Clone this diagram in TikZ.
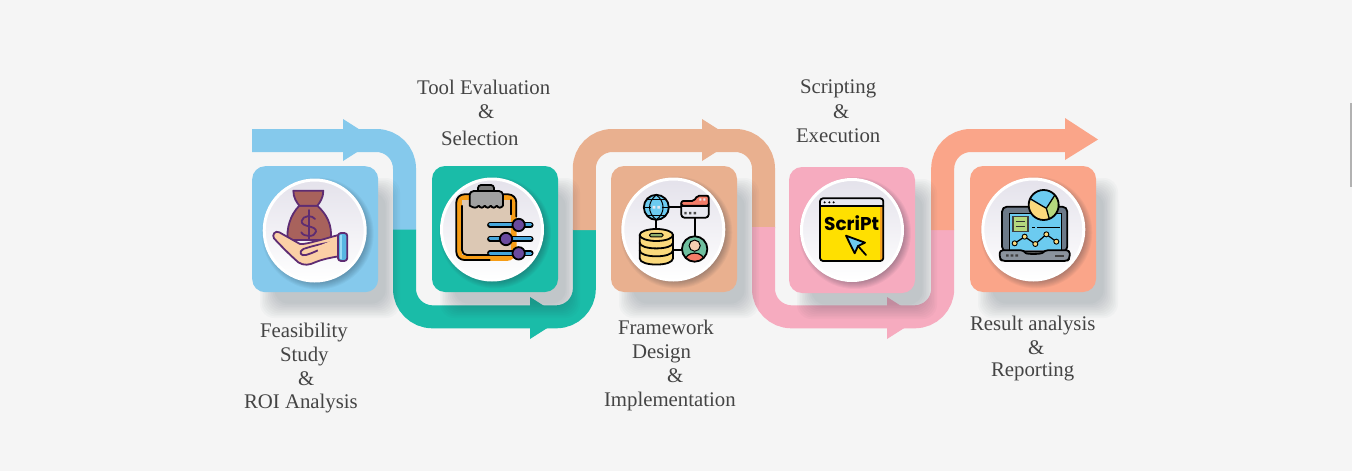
\documentclass[tikz,border=0pt]{standalone}
\usepackage{fontspec}
\setmainfont{Liberation Serif}
\newfontfamily\winfont{Poppins}
\definecolor{bgc}{HTML}{F5F5F5}
\definecolor{bluec}{HTML}{85C9EC}
\definecolor{tealc}{HTML}{1ABCA8}
\definecolor{orangec}{HTML}{E9B08F}
\definecolor{pinkc}{HTML}{F6ABBF}
\definecolor{salmonc}{HTML}{FAA589}
\definecolor{txtc}{HTML}{444444}
\definecolor{shadc}{HTML}{1A2A3A}
\definecolor{discc}{HTML}{E4E2EB}
\definecolor{purp}{HTML}{5E2C72}
\definecolor{bagc}{HTML}{A8625C}
\definecolor{skinc}{HTML}{FBD0A6}
\definecolor{cuffc}{HTML}{58B6E2}
\definecolor{board}{HTML}{F79D16}
\definecolor{paper}{HTML}{DCC8B4}
\definecolor{clipc}{HTML}{A0A0A0}
\definecolor{clipd}{HTML}{7C7C7C}
\definecolor{sliderc}{HTML}{46A6DC}
\definecolor{knobc}{HTML}{6A4A9E}
\definecolor{skyc}{HTML}{6CCBF0}
\definecolor{redc}{HTML}{F47C68}
\definecolor{foldc}{HTML}{E8E8F0}
\definecolor{yelc}{HTML}{FBD97C}
\definecolor{greenc}{HTML}{6FBF9F}
\definecolor{headc}{HTML}{F5CDB0}
\definecolor{pillc}{HTML}{8FAE6A}
\definecolor{scr}{HTML}{FFE000}
\definecolor{scro}{HTML}{F7A520}
\definecolor{lapc}{HTML}{6D7A89}
\definecolor{basec}{HTML}{8A939D}
\definecolor{leaf}{HTML}{B5D87E}
\newcommand\softbox[4]{%
  \foreach \i in {0,...,9}{%
    \pgfmathsetmacro\g{-8+1.6*\i}%
    \fill[shadc,opacity=.025,rounded corners=14pt] ({#1+\g},{#2+\g}) rectangle ({#3-\g},{#4-\g});
  }}
\newcommand\softdisc[2]{%
  \foreach \i in {0,...,7}{%
    \pgfmathsetmacro\g{49+\i}%
    \fill[shadc,opacity=.045] (#1+3,#2+3) circle [radius=\g pt];
  }}
\tikzset{
  band/.style={line width=23pt,line cap=butt,rounded corners=28pt},
  card/.style={minimum width=126pt,minimum height=126pt,inner sep=0pt,outer sep=0pt,rounded corners=13pt},
  disc/.style={circle,minimum size=101pt,inner sep=0pt,outer sep=0pt,draw=white,line width=3pt,top color=discc,middle color=discc!45!white,bottom color=white},
  lbl/.style={anchor=base west,inner sep=0pt,outer sep=0pt,text=txtc,font=\fontsize{20.8}{24}\selectfont},
  ico/.style={x=.3333pt,y=-.3333pt},
  pl/.style={draw=purp,line width=1.8pt,line join=round,line cap=round},
  bl/.style={draw=black,line width=1.8pt,line join=round,line cap=round}
}
\begin{document}
\begin{tikzpicture}[x=1pt,y=-1pt]
\useasboundingbox (0,0) rectangle (1352,471);
\fill[bgc] (0,0) rectangle (1352,471);
\fill[black!30] (1350,103) rectangle (1352,186.5);
% bands
\draw[band,draw=bluec] (252,140.5) -- (404.5,140.5) -- (404.5,230);
\fill[bluec] (343,119) -- (376,140) -- (343,161) -- cycle;
\draw[band,draw=tealc] (404.5,229.5) -- (404.5,316.8) -- (584.3,316.8) -- (584.3,229.5);
\fill[tealc] (530,297) -- (563,318) -- (530,339) -- cycle;
\draw[band,draw=orangec] (584.3,230) -- (584.3,140.5) -- (763.5,140.5) -- (763.5,228);
\fill[orangec] (702,119) -- (735,140) -- (702,161) -- cycle;
\draw[band,draw=pinkc] (763.5,227) -- (763.5,316.8) -- (942.7,316.8) -- (942.7,229.5);
\fill[pinkc] (887,297) -- (920,318) -- (887,339) -- cycle;
\draw[band,draw=salmonc] (942.7,230) -- (942.7,140.5) -- (1066,140.5);
\fill[salmonc] (1065,118) -- (1098,139.5) -- (1065,160) -- cycle;
% card shadows
\softbox{268}{186}{392}{310}
\softbox{448}{186}{572}{310}
\softbox{627}{186}{751}{310}
\softbox{805}{187}{929}{311}
\softbox{986}{186}{1110}{310}
% cards
\node[card,fill=bluec] (c1) at (315.2,229.2) {};
\node[card,fill=tealc] (c2) at (495,229) {};
\node[card,fill=orangec] (c3) at (674,229) {};
\node[card,fill=pinkc] (c4) at (852,230) {};
\node[card,fill=salmonc] (c5) at (1033,229) {};
% discs
\softdisc{314.7}{230.5}
\softdisc{492}{229.5}
\softdisc{673.3}{229.5}
\softdisc{852}{230}
\softdisc{1033.3}{229.5}
\node[disc] (d1) at (314.7,230.5) {};
\node[disc] (d2) at (492,229.5) {};
\node[disc] (d3) at (673.3,229.5) {};
\node[disc] (d4) at (852,230) {};
\node[disc] (d5) at (1033.3,229.5) {};
% icon 1: money bag on hand
\begin{scope}[shift={(260,175)},ico]
\path[pl,fill=bagc] (118,92) .. controls (90,120) and (78,165) .. (84,195) -- (212,195) .. controls (218,150) and (200,118) .. (172,92) -- cycle;
\path[pl,fill=bagc] (100,47) -- (190,47) .. controls (190,68) and (180,82) .. (172,92) -- (118,92) .. controls (110,82) and (100,68) .. (100,47) -- cycle;
\draw[pl] (165,132) .. controls (158,120) and (128,120) .. (125,138) .. controls (123,158) and (170,150) .. (168,170) .. controls (165,188) and (130,186) .. (124,172);
\draw[pl] (146,105) -- (146,195);
\path[pl,fill=skinc] (236,180) .. controls (215,185) and (195,192) .. (170,198) .. controls (150,203) and (135,208) .. (120,207) -- (58,172) .. controls (45,165) and (35,180) .. (42,190) .. controls (65,215) and (90,240) .. (115,262) .. controls (130,273) and (150,270) .. (165,262) .. controls (190,252) and (212,248) .. (236,244) -- cycle;
\path[pl,fill=skinc] (215,202) .. controls (190,205) and (160,212) .. (130,222) .. controls (115,230) and (122,245) .. (138,240) .. controls (155,235) and (165,230) .. (178,224);
\fill[skinc] (170,215) -- (232,190) -- (232,240) -- (180,245) -- cycle;
\path[pl,fill=cuffc,rounded corners=3pt] (234,174) rectangle (262,258);
\fill[skyc!70!white] (239,179) rectangle (247,253);
\end{scope}
% icon 2: clipboard with sliders
\begin{scope}[shift={(438,175)},ico]
\fill[board,rounded corners=10pt] (55,58) rectangle (236,258);
\fill[paper] (72,75) rectangle (218,240);
\draw[bl,rounded corners=8pt] (155,255) -- (55,255) -- (55,58) -- (95,58);
\draw[bl,rounded corners=5pt] (155,240) -- (72,240) -- (72,92);
\draw[bl,rounded corners=8pt] (195,58) -- (235,58) -- (235,125);
\draw[bl] (218,75) -- (218,118);
\path[bl,fill=clipd,rounded corners=3pt] (120,50) -- (120,30) -- (168,30) -- (168,50);
\path[bl,fill=clipc] (95,92) -- (95,55) [rounded corners=4pt] -- (95,48) -- (195,48) [sharp corners] -- (195,92)
  .. controls (188,100) and (182,100) .. (176,92) .. controls (170,100) and (164,100) .. (158,92) .. controls (152,100) and (146,100) .. (140,92) .. controls (134,100) and (128,100) .. (122,92) .. controls (116,100) and (108,100) .. (95,92) -- cycle;
\foreach \yy/\kx in {150/242,192/204,235/242}{
  \draw[line width=5.8pt,line cap=round,black] (156,\yy) -- (278,\yy);
  \draw[line width=3pt,line cap=round,sliderc] (156,\yy) -- (278,\yy);
  \path[bl,fill=knobc] (\kx,\yy) circle [radius=6.2pt];
}
\end{scope}
% icon 3: network
\begin{scope}[shift={(618,175)},ico]
\draw[bl] (150,97) -- (190,97);
\draw[bl] (230,128) -- (230,185);
\draw[bl] (190,225) -- (165,225);
\draw[bl] (115,134) -- (115,165);
\path[bl,fill=skyc] (115,97) circle [radius=12.5pt];
\draw[bl,line width=1pt] (78,97) -- (152,97);
\draw[bl,line width=1pt] (115,60) .. controls (88,80) and (88,115) .. (115,134);
\draw[bl,line width=1pt] (115,60) .. controls (142,80) and (142,115) .. (115,134);
\draw[bl,line width=1pt] (88,73) -- (142,73);
\draw[bl,line width=1pt] (88,121) -- (142,121);
\path[fill=skyc] (98,87) rectangle (132,107);
\fill[foldc] (104,93) rectangle (112,101) (118,93) rectangle (126,101);
\path[bl,fill=foldc,rounded corners=3pt] (190,78) rectangle (272,128);
\path[bl,fill=redc,rounded corners=2pt] (190,92) -- (190,78) -- (228,78) -- (238,62) -- (272,62) -- (272,92) -- cycle;
\draw[bl] (190,92) -- (272,92);
\fill[foldc] (244,70) rectangle (250,77) (256,70) rectangle (262,77);
\fill[black!70] (199,111) rectangle (206,118) (213,111) rectangle (220,118) (227,111) rectangle (234,118);
\path[fill=greenc] (230,222) circle [radius=12.7pt];
\begin{scope}
\clip (230,222) circle [radius=12.2pt];
\path[bl,line width=1.2pt,fill=redc] (200,262) .. controls (200,225) and (260,225) .. (260,262) -- cycle;
\path[draw=black,line width=1pt,fill=headc] (230,212) circle [radius=5.6pt];
\end{scope}
\path[bl] (230,222) circle [radius=12.7pt];
\path[bl,fill=yelc] (65,180) -- (65,250) .. controls (65,275) and (165,275) .. (165,250) -- (165,180) -- cycle;
\draw[bl] (65,203) .. controls (65,226) and (165,226) .. (165,203);
\draw[bl] (65,226) .. controls (65,250) and (165,250) .. (165,226);
\path[bl,fill=yelc] (115,180) ellipse [x radius=16.7pt,y radius=6pt];
\path[draw=black,line width=1pt,fill=pillc,rounded corners=1.5pt] (95,175) rectangle (135,186);
\end{scope}
% icon 4: script window
\begin{scope}[shift={(796,175)},ico]
\fill[scr] (72,70) rectangle (262,258);
\fill[scro] (252,93) rectangle (262,258);
\fill[foldc] (72,70) rectangle (262,93);
\path[bl,rounded corners=3pt] (72,70) rectangle (262,258);
\draw[bl] (72,93) -- (262,93);
\fill (86,82) circle [radius=1.1pt] (100,82) circle [radius=1.1pt] (113,82) circle [radius=1.1pt];
\node[inner sep=0pt,anchor=center,font=\winfont\bfseries\fontsize{18.5}{19}\selectfont,text=black] (scripttxt) at (167,143) {ScriPt};
\path[bl,fill=skyc] (150,182) -- (207,203) -- (186,213) -- (176,235) -- cycle;
\draw[bl] (186,213) -- (210,240);
\end{scope}
% icon 5: laptop and chart
\begin{scope}[shift={(978,175)},ico]
\path[bl,fill=lapc,rounded corners=5pt] (72,95) rectangle (268,230);
\fill[skyc] (93,115) rectangle (250,226);
\path[draw=black,line width=1pt] (93,115) -- (93,226) (93,115) -- (250,115) -- (250,226);
\path[bl,fill=basec,rounded corners=3pt] (65,226) -- (138,226) .. controls (145,238) and (190,238) .. (200,226) -- (275,226) -- (275,250) -- (268,258) -- (72,258) -- (65,250) -- cycle;
\fill[black!75] (84,238) rectangle (92,245) (98,238) rectangle (106,245) (112,238) rectangle (120,245);
\fill[black!75] (232,240) rectangle (258,245);
\path[draw=black!75,line width=1.2pt,fill=leaf] (105,125) rectangle (150,170);
\draw[line width=1.2pt,black!80] (113,140) -- (142,140) (113,154) -- (142,154);
\draw[line width=1.2pt,black] (163,157) -- (170,157) (177,157) -- (245,157);
\draw[bl,line width=1.2pt] (110,205) -- (140,185) -- (172,207) -- (205,178) -- (235,200);
\foreach \px/\py in {110/205,140/185,172/207,205/178,235/200}{
  \path[draw=black,line width=.9pt,fill=yelc] (\px,\py) circle [radius=2.5pt];
}
\begin{scope}
\clip (197,90) circle [radius=15pt];
\fill[skyc] (100,0) rectangle (300,180);
\fill[yelc] (205,100) -- (150,72) -- (130,150) -- (215,150) -- cycle;
\fill[leaf] (205,100) -- (232,55) -- (270,80) -- (270,150) -- (215,150) -- cycle;
\draw[bl,line width=1.3pt] (205,100) -- (158,72) (205,100) -- (232,58) (205,100) -- (215,135);
\end{scope}
\path[bl] (197,90) circle [radius=15pt];
\end{scope}
% labels
\node[lbl] (t1a) at (260,337) {Feasibility};
\node[lbl] (t1b) at (280,361.5) {Study};
\node[lbl] (t1c) at (298,385) {\&};
\node[lbl] (t1d) at (244,408) {ROI Analysis};
\node[lbl] (t2a) at (417,94) {Tool Evaluation};
\node[lbl] (t2b) at (478,118) {\&};
\node[lbl] (t2c) at (441,145) {Selection};
\node[lbl] (t3a) at (618,334) {Framework};
\node[lbl] (t3b) at (632,358) {Design};
\node[lbl] (t3c) at (667,382) {\&};
\node[lbl] (t3d) at (604,406) {Implementation};
\node[lbl] (t4a) at (800,93) {Scripting};
\node[lbl] (t4b) at (833,118) {\&};
\node[lbl] (t4c) at (796,142) {Execution};
\node[lbl] (t5a) at (970,330) {Result analysis};
\node[lbl] (t5b) at (1028,354) {\&};
\node[lbl] (t5c) at (991,376) {Reporting};
\end{tikzpicture}
\end{document}
